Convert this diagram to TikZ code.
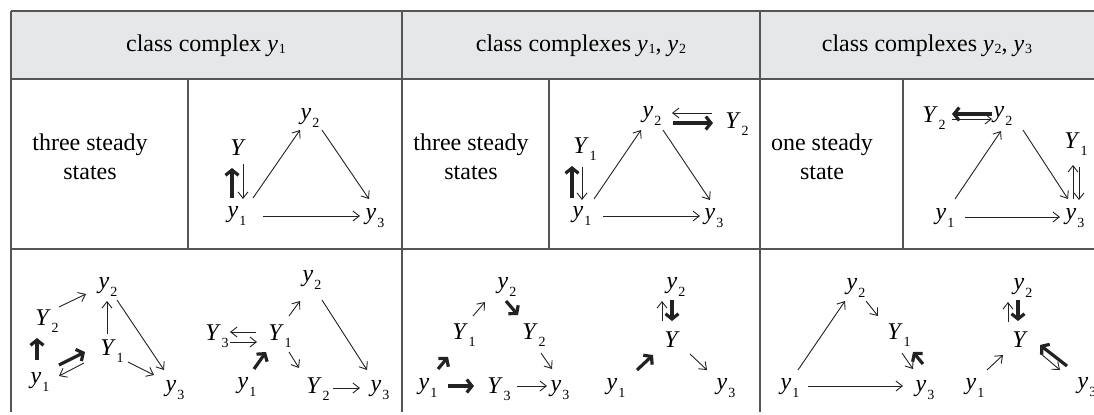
\documentclass[tikz,border=0pt]{standalone}
\usepackage{fontspec}
\setmainfont{Liberation Serif}
\usetikzlibrary{arrows.meta,calc}
\newcommand\dsub[1]{\kern0.5pt\raisebox{-3.7pt}{\fontsize{7}{8}\selectfont #1}}
\newcommand\hsub[1]{\kern0.4pt\raisebox{-0.8pt}{\fontsize{7}{8}\selectfont #1}}
\newcommand\vy[1]{\textit{y}\dsub{#1}}
\newcommand\vY[1]{\textit{Y}\dsub{#1}}
\newcommand\hy[1]{\textit{y}\hsub{#1}}
\newcommand\arr[5]{\draw[#1] ($(#2)+(#3)$) -- ($(#4)+(#5)$);}
\definecolor{hdrgray}{HTML}{E6E7E8}
\definecolor{rulegray}{HTML}{555555}
\definecolor{ink}{HTML}{222222}
\begin{document}
\begin{tikzpicture}[x=0.5pt,y=-0.5pt,
  lab/.style={inner sep=0pt,font=\fontsize{12}{14}\selectfont},
  txt/.style={inner sep=0pt,align=center,font=\fontsize{12}{14.5}\selectfont},
  rule/.style={draw=rulegray,line width=0.65pt},
  tn/.style={draw=ink,line width=0.45pt,-{Straight Barb[length=3.2pt,width=5pt]}},
  tk/.style={draw=ink,line width=1.6pt,-{Straight Barb[length=2.6pt,width=6.5pt]}}]
\useasboundingbox (0,0) rectangle (1094,414);
% table
\fill[hdrgray] (11,11) rectangle (1094,79);
\draw[rule] (11,11) -- (1094,11);
\draw[rule] (11,79) -- (1094,79);
\draw[rule] (11,249) -- (1094,249);
\draw[rule] (11,11) -- (11,412);
\draw[rule] (402,11) -- (402,412);
\draw[rule] (760,11) -- (760,412);
\draw[rule] (188,79) -- (188,249);
\draw[rule] (549,79) -- (549,249);
\draw[rule] (903,79) -- (903,249);
% headers
\node[lab] (h1) at (206,46) {class complex \hy{1}};
\node[lab] (h2) at (581,46) {class complexes \hy{1}, \hy{2}};
\node[lab] (h3) at (927,46) {class complexes \hy{2}, \hy{3}};
\node[txt] (t1) at (90,157) {three steady\\states};
\node[txt] (t2) at (471,157) {three steady\\states};
\node[txt] (t3) at (822,157) {one steady\\state};
% panel A
\node[lab] (aY) at (238,148) {\textit{Y}};
\node[lab] (ay2) at (310,118) {\vy{2}};
\node[lab] (ay1) at (237,216) {\vy{1}};
\node[lab] (ay3) at (375,218) {\vy{3}};
\arr{tk}{ay1}{-5,-18}{aY}{-6,20}
\arr{tn}{aY}{5,16}{ay1}{6,-17}
\arr{tn}{ay1}{16,-18}{ay2}{-10,12}
\arr{tn}{ay2}{12,12}{ay3}{-6,-19}
\arr{tn}{ay1}{26,0}{ay3}{-15,-2}
% panel B
\node[lab] (by2) at (652,116) {\vy{2}};
\node[lab] (bY2) at (737,124) {\vY{2}};
\node[lab] (bY1) at (585,149) {\vY{1}};
\node[lab] (by1) at (582,216) {\vy{1}};
\node[lab] (by3) at (714,218) {\vy{3}};
\arr{tn}{bY2}{-25,-11}{by2}{20,-3}
\arr{tk}{by2}{21,7}{bY2}{-24,-1}
\arr{tk}{by1}{-10,-18}{bY1}{-13,17}
\arr{tn}{bY1}{-3,18}{by1}{0,-16}
\arr{tn}{by1}{12,-17}{by2}{-11,14}
\arr{tn}{by2}{11,14}{by3}{-4,-18}
\arr{tn}{by1}{21,0}{by3}{-14,-2}
% panel C
\node[lab] (cY2) at (934,118) {\vY{2}};
\node[lab] (cy2) at (1003,116) {\vy{2}};
\node[lab] (cY1) at (1076,144) {\vY{1}};
\node[lab] (cy1) at (945,218) {\vy{1}};
\node[lab] (cy3) at (1075,218) {\vy{3}};
\arr{tk}{cy2}{-11,-2}{cY2}{18,-4}
\arr{tn}{cY2}{18,1}{cy2}{-11,3}
\arr{tn}{cy3}{-2,-19}{cY1}{-3,21}
\arr{tn}{cY1}{3,23}{cy3}{4,-18}
\arr{tn}{cy1}{10,-19}{cy2}{-2,15}
\arr{tn}{cy2}{20,14}{cy3}{-7,-19}
\arr{tn}{cy1}{20,-1}{cy3}{-15,-1}
% panel D
\node[lab] (dy2) at (108,287) {\vy{2}};
\node[lab] (dY2) at (47,321) {\vY{2}};
\node[lab] (dY1) at (112,351) {\vY{1}};
\node[lab] (dy1) at (40,382) {\vy{1}};
\node[lab] (dy3) at (175,390) {\vy{3}};
\arr{tn}{dY2}{12,-14}{dy2}{-22,7}
\arr{tn}{dY1}{-5,-17}{dy2}{-1,14}
\arr{tn}{dy2}{9,13}{dy3}{-11,-20}
\arr{tk}{dy1}{-3,-22}{dY2}{-10,17}
\arr{tk}{dy1}{19,-17}{dY1}{-27,1}
\arr{tn}{dY1}{-28,12}{dy1}{19,-6}
\arr{tn}{dY1}{16,11}{dy3}{-21,-15}
% panel E
\node[lab] (ey2) at (312,280) {\vy{2}};
\node[lab] (eY3) at (217,336) {\vY{3}};
\node[lab] (eY1) at (280,336) {\vY{1}};
\node[lab] (ey1) at (247,387) {\vy{1}};
\node[lab] (eY2) at (318,389) {\vY{2}};
\node[lab] (ey3) at (380,390) {\vy{3}};
\arr{tn}{eY1}{-24,-4}{eY3}{13,-4}
\arr{tn}{eY3}{13,6}{eY1}{-23,6}
\arr{tk}{ey1}{7,-18}{eY1}{-14,16}
\arr{tn}{eY1}{9,-20}{ey2}{-12,21}
\arr{tn}{eY1}{9,16}{eY2}{-19,-21}
\arr{tn}{eY2}{15,-1}{ey3}{-20,-2}
\arr{tn}{ey2}{10,20}{ey3}{-13,-20}
% panel F
\node[lab] (fy2) at (507,287) {\vy{2}};
\node[lab] (fY1) at (464,335) {\vY{1}};
\node[lab] (fY2) at (534,335) {\vY{2}};
\node[lab] (fy1) at (428,388) {\vy{1}};
\node[lab] (fY3) at (499,389) {\vY{3}};
\node[lab] (fy3) at (560,390) {\vy{3}};
\arr{tk}{fy1}{10,-19}{fY1}{-16,22}
\arr{tn}{fY1}{9,-19}{fy2}{-22,15}
\arr{tk}{fy2}{-1,14}{fY2}{-16,-20}
\arr{tn}{fY2}{7,18}{fy3}{-8,-21}
\arr{tk}{fy1}{20,-2}{fY3}{-25,-3}
\arr{tn}{fY3}{18,-3}{fy3}{-13,-4}
% panel G
\node[lab] (gy2) at (676,287) {\vy{2}};
\node[lab] (gY) at (672,340) {\textit{Y}};
\node[lab] (gy1) at (616,388) {\vy{1}};
\node[lab] (gy3) at (726,388) {\vy{3}};
\arr{tn}{gY}{-10,-19}{gy2}{-14,14}
\arr{tk}{gy2}{-4,13}{gY}{0,-19}
\arr{tk}{gy1}{21,-18}{gY}{-19,15}
\arr{tn}{gY}{18,14}{gy3}{-19,-18}
% panel H
\node[lab] (hy2) at (856,288) {\vy{2}};
\node[lab] (hY1) at (899,335) {\vY{1}};
\node[lab] (hy1) at (790,388) {\vy{1}};
\node[lab] (hy3) at (925,390) {\vy{3}};
\arr{tn}{hy1}{8,-18}{hy2}{-11,13}
\arr{tn}{hy2}{10,13}{hY1}{-21,-19}
\arr{tn}{hY1}{3,18}{hy3}{-12,-21}
\arr{tk}{hy3}{-2,-26}{hY1}{14,17}
\arr{tn}{hy1}{18,-2}{hy3}{-22,-4}
% panel I
\node[lab] (iy2) at (1023,288) {\vy{2}};
\node[lab] (iY) at (1020,340) {\textit{Y}};
\node[lab] (iy1) at (975,388) {\vy{1}};
\node[lab] (iy3) at (1087,387) {\vy{3}};
\arr{tn}{iY}{-12,-18}{iy2}{-15,14}
\arr{tk}{iy2}{-5,12}{iY}{-2,-19}
\arr{tn}{iy1}{12,-18}{iY}{-17,15}
\arr{tk}{iy3}{-20,-21}{iY}{20,5}
\arr{tn}{iY}{20,13}{iy3}{-27,-17}
\end{tikzpicture}
\end{document}
